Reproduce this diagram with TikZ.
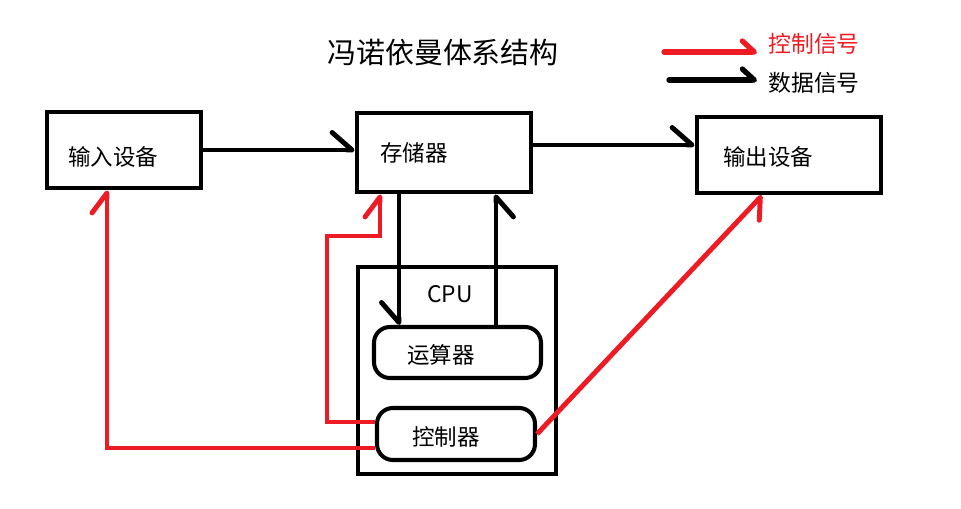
\documentclass[tikz,border=0pt]{standalone}
\usepackage{fontspec}
\setmainfont{Noto Sans CJK SC}
\usepackage{tikz}
\usetikzlibrary{arrows.meta,calc}
\usepackage{xcolor}
\definecolor{sigred}{HTML}{ED1C24}
\tikzset{
  box/.style={draw, rectangle, line width=2.8pt, inner sep=0pt},
  unit/.style={draw, rectangle, rounded corners=9pt, line width=2.3pt, inner sep=0pt},
  txt/.style={inner sep=0pt, font=\fontsize{12.8pt}{15pt}\selectfont},
  databus/.style={line width=2.8pt, -{Straight Barb[harpoon,length=4mm,width=7mm,round]}},
  databsw/.style={line width=2.8pt, -{Straight Barb[harpoon,swap,length=4mm,width=7mm,round]}},
  ctrlbus/.style={line width=2.8pt, sigred, -{Straight Barb[harpoon,length=4mm,width=6mm,round]}},
  ctrlbsw/.style={line width=2.8pt, sigred, -{Straight Barb[harpoon,swap,length=3.5mm,width=6mm,round]}},
  keyarr/.style={line width=3pt, line cap=round, -{Straight Barb[harpoon,length=2.4mm,width=4.4mm,round]}},
}

\begin{document}
\begin{tikzpicture}[x=0.02cm, y=-0.02cm]
  \useasboundingbox (0,0) rectangle (961,508);

  % --- title and key ---
  \node[inner sep=0pt, font=\fontsize{16.5pt}{19pt}\selectfont] (title) at (443,53) {冯诺依曼体系结构};
  \coordinate (k1a) at (664,52);
  \coordinate (k1b) at (757,52);
  \coordinate (k2a) at (669,80);
  \coordinate (k2b) at (757,80);
  \draw[keyarr, sigred] (k1a) -- (k1b);
  \draw[keyarr] (k2a) -- (k2b);
  \node[txt, anchor=west, text=sigred, font=\fontsize{13pt}{15pt}\selectfont] (keyctl) at (768,44) {控制信号};
  \node[txt, anchor=west, font=\fontsize{13pt}{15pt}\selectfont] (keydat) at (768,83) {数据信号};

  % --- units ---
  \node[box, minimum width=3.08cm, minimum height=1.52cm] (indev) at (124,150) {};
  \node[box, minimum width=3.48cm, minimum height=1.58cm] (mem) at (444,152.5) {};
  \node[box, minimum width=3.68cm, minimum height=1.52cm] (outdev) at (789,155) {};
  \node[box, minimum width=3.96cm, minimum height=4.14cm] (cpu) at (457,370.5) {};
  \node[unit, minimum width=3.34cm, minimum height=1.02cm] (alu) at (457.5,352.5) {};
  \node[unit, minimum width=3.16cm, minimum height=1.04cm] (cu) at (456,434) {};

  \node[txt, anchor=west] (indevtxt) at (68,157) {输入设备};
  \node[txt, anchor=west] (memtxt) at (380,153) {存储器};
  \node[txt, anchor=west] (outdevtxt) at (723,157) {输出设备};
  \node[txt, font=\fontsize{13pt}{15pt}\selectfont] (cputxt) at (450,294) {CPU};
  \node[txt] (alutxt) at (441,355) {运算器};
  \node[txt] (cutxt) at (446,437) {控制器};

  % --- data signals ---
  \coordinate (mo) at ([yshift=0.15cm]mem.east);
  \coordinate (md) at ([xshift=-0.9cm]mem.south);
  \coordinate (mu) at ([xshift=1.04cm]mem.south);
  \draw[databus] (indev.east) -- (indev.east -| mem.west);
  \draw[databus] (mo) -- (mo -| outdev.west);
  \draw[databsw] (md) -- (md |- alu.north);
  \draw[databsw] (mu |- alu.north) -- (mu);

  % --- control signals ---
  \coordinate (ic) at ([xshift=-0.34cm]indev.south);
  \coordinate (bend) at (327,236);
  \coordinate (mc) at ([xshift=-1.28cm]mem.south);
  \coordinate (oc) at ([xshift=-0.54cm]outdev.south);
  \draw[ctrlbus] ([yshift=-0.28cm]cu.west) -| (ic);
  \draw[ctrlbus] ([yshift=0.24cm]cu.west) -| (bend) -| (mc);
  \draw[ctrlbsw] (cu.east) -- (oc);
\end{tikzpicture}
\end{document}
